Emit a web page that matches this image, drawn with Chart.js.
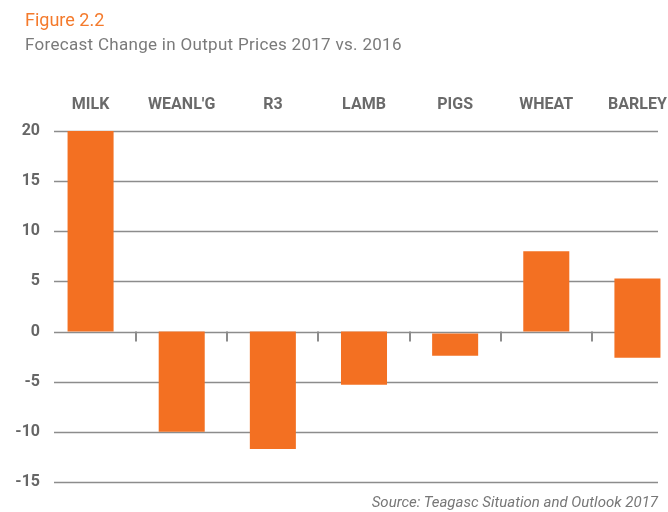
<!DOCTYPE html>
<html>
<head>
<meta charset="utf-8">
<script src="https://cdn.jsdelivr.net/npm/chart.js@4.4.1/dist/chart.umd.min.js"></script>
<style>
  html, body { margin: 0; padding: 0; overflow: hidden; background: #fff; }
  #contenedor { position: relative; width: 700px; height: 512px; }
  .texto { position: absolute; font-family: Roboto, sans-serif; white-space: nowrap; }
  #titulo { left: 25px; top: 9px; font-size: 18px; color: #f47a2c; }
  #subtitulo { left: 25px; top: 34px; font-size: 17px; letter-spacing: 0.3px; color: #7a7a7a; }
  #fuente {
    left: 0; top: 493px; width: 658px; text-align: right;
    font-style: italic; font-size: 15px; color: #777;
  }
</style>
</head>
<body>
<div id="contenedor">
  <canvas id="grafica"></canvas>
  <div id="titulo" class="texto">Figure 2.2</div>
  <div id="subtitulo" class="texto">Forecast Change in Output Prices 2017 vs. 2016</div>
  <div id="fuente" class="texto">Source: Teagasc Situation and Outlook 2017</div>
</div>
<script>
// Datos
const categorias = ["MILK", "WEANL'G", "R3", "LAMB", "PIGS", "WHEAT", "BARLEY"];
const inicio = [0, 0, 0, 0, -0.2, 0, -2.6];
const fin = [20, -10, -11.7, -5.3, -2.4, 8, 5.3];
const ticksY = [20, 15, 10, 5, 0, -5, -10, -15];

const naranja = '#f37022';
const gris = '#8c8c8c';

// Lineas horizontales y marcas sobre el cero
const lineasPlugin = {
  id: 'lineas',
  beforeDatasetsDraw(chart) {
    const ctx = chart.ctx;
    const x = chart.scales.x;
    const y = chart.scales.y;
    ctx.save();
    ctx.strokeStyle = gris;
    ctx.lineWidth = 1.5;
    ticksY.forEach(v => {
      const py = Math.round(y.getPixelForValue(v)) + 0.5;
      ctx.beginPath();
      ctx.moveTo(54, py);
      ctx.lineTo(658, py);
      ctx.stroke();
    });
    const y0 = y.getPixelForValue(0);
    ctx.lineWidth = 2;
    for (let i = 0; i < categorias.length - 1; i++) {
      const px = Math.round((x.getPixelForValue(i) + x.getPixelForValue(i + 1)) / 2);
      ctx.beginPath();
      ctx.moveTo(px, y0);
      ctx.lineTo(px, y0 + 10);
      ctx.stroke();
    }
    ctx.restore();
  }
};

const datos = categorias.map((c, i) => [inicio[i], fin[i]]);

const config = {
  type: 'bar',
  data: {
    labels: categorias,
    datasets: [{
      data: datos,
      backgroundColor: naranja,
      borderWidth: 0,
      categoryPercentage: 1,
      barPercentage: 0.505
    }]
  },
  options: {
    responsive: true,
    maintainAspectRatio: false,
    animation: false,
    layout: { padding: { top: 55, left: 0, right: 17, bottom: 30 } },
    plugins: {
      legend: { display: false },
      tooltip: { enabled: false }
    },
    scales: {
      x: {
        position: 'top',
        grid: { display: false, drawTicks: false },
        border: { display: false },
        ticks: {
          color: '#6a6a6a',
          padding: 16,
          maxRotation: 0,
          font: { family: 'Roboto', size: 16, weight: 'bold' }
        },
        afterFit(scale) { scale.height = 76; }
      },
      y: {
        min: -15,
        max: 20,
        grid: { display: false, drawTicks: false },
        border: { display: false },
        afterBuildTicks(scale) { scale.ticks = ticksY.map(v => ({ value: v })); },
        ticks: {
          color: '#666',
          padding: 5,
          font: { family: 'Roboto', size: 16, weight: 'bold' }
        },
        afterFit(scale) { scale.width = 45; }
      }
    }
  },
  plugins: [lineasPlugin]
};

const ctx = document.getElementById('grafica').getContext('2d');
new Chart(ctx, config);
</script>
</body>
</html>
